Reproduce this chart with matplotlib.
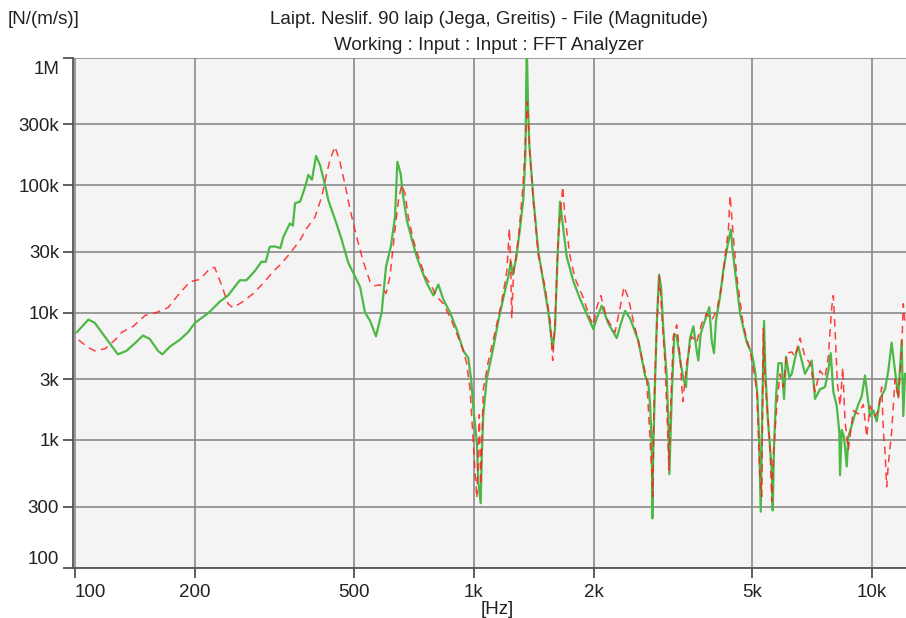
import matplotlib
matplotlib.use("Agg")
import matplotlib.pyplot as plt
import matplotlib.transforms as mtransforms
import numpy as np

plt.rcParams['font.family'] = ['Liberation Sans', 'DejaVu Sans']

## Data
title_1 = "Laipt. Neslif. 90 laip (Jega, Greitis) - File (Magnitude)"
title_2 = "Working : Input : Input : FFT Analyzer"
y_unit = "[N/(m/s)]"
x_unit = "[Hz]"

x_ticks = [100, 200, 500, 1000, 2000, 5000, 10000]
x_tick_labels = ["100", "200", "500", "1k", "2k", "5k", "10k"]
y_ticks = [100, 300, 1e3, 3e3, 1e4, 3e4, 1e5, 3e5, 1e6]
y_tick_labels = ["100", "300", "1k", "3k", "10k", "30k", "100k", "300k", "1M"]

green_f = [101, 108, 112, 128, 134.5, 141, 148, 154, 161.5, 165.6, 173, 183, 192, 200,
           216, 231, 242, 259, 269, 282, 293.5, 301, 308, 317, 327.5, 333, 346, 352,
           356.5, 367, 378, 385, 393, 402.5, 412, 424, 432, 454, 467, 485, 499, 519,
           534, 550, 569, 588, 603, 620, 635, 644, 656, 666, 680, 706, 720, 741, 763,
           793, 816, 840, 873, 908, 943, 970, 986, 999, 1019, 1028, 1042, 1049, 1058,
           1079, 1121, 1154, 1188, 1223, 1240, 1254, 1279, 1308, 1334, 1349, 1360, 1370,
           1380, 1413, 1454, 1497, 1541, 1580, 1601, 1623, 1648, 1680, 1713, 1780, 1850,
           1923, 1998, 2038, 2097, 2179, 2287, 2354, 2400, 2470, 2592, 2694, 2746, 2773,
           2800, 2810, 2827, 2854, 2883, 2921, 2955, 2995, 3054, 3083, 3100, 3125, 3143,
           3191, 3235, 3298, 3362, 3414, 3428, 3494, 3562, 3631, 3665, 3716, 3809, 3905,
           3960, 4013, 4060, 4155, 4235, 4335, 4421, 4472, 4577, 4666, 4850, 4991, 5087,
           5155, 5206, 5257, 5306, 5358, 5399, 5474, 5602, 5634, 5677, 5743, 5820, 5935,
           6014, 6084, 6201, 6287, 6472, 6532, 6661, 6790, 6921, 7058, 7194, 7404, 7621,
           7768, 7877, 7995, 8155, 8279, 8312, 8395, 8506, 8641, 8721, 8893, 9064, 9239,
           9421, 9603, 9698, 9885, 10080, 10275, 10474, 10780, 10990, 11200, 11420, 11640,
           11870, 11980, 12100]
green_v = [7000, 8800, 8300, 4700, 5000, 5700, 6600, 6200, 5000, 4700, 5400, 6100, 7000, 8300,
           9900, 12200, 13600, 17900, 17900, 21000, 25000, 25000, 32800, 33000, 32000, 39000,
           50000, 48000, 72000, 74000, 97000, 120000, 110000, 169000, 143000, 100000, 76000,
           48700, 37000, 24500, 20400, 15900, 10000, 8600, 6500, 10000, 22900, 32800, 56000,
           152000, 123000, 81000, 53000, 34000, 27400, 21500, 17000, 13600, 16600, 12600,
           10000, 7300, 5000, 4400, 3000, 1770, 970, 471, 319, 767, 1580, 3000, 5300, 8600,
           13000, 19200, 25000, 19800, 26500, 45600, 78500, 172000, 1300000, 424000, 206000,
           78500, 30000, 17400, 10000, 5200, 7500, 25000, 74000, 45000, 27400, 17600, 12800,
           9700, 7400, 9000, 11300, 8200, 6300, 8600, 10300, 9000, 6000, 3200, 2800, 1900,
           950, 243, 950, 2800, 8200, 19800, 15900, 7300, 3100, 1360, 540, 1200, 2200, 6800,
           6500, 4300, 3000, 2600, 3500, 6300, 7800, 5000, 4200, 6800, 8700, 11000, 6000,
           4800, 8700, 13300, 21500, 32800, 44800, 30000, 16300, 9800, 5800, 4800, 3500,
           2300, 1060, 274, 1900, 8600, 3500, 1500, 580, 280, 890, 2200, 4000, 4000, 2100,
           4500, 3100, 3300, 5000, 5400, 4200, 3300, 3700, 4200, 2100, 2500, 2600, 3500,
           4800, 2400, 1850, 1150, 530, 1200, 1060, 620, 1060, 1300, 1600, 1900, 2200, 3200,
           2500, 1540, 1700, 1400, 2100, 2500, 3500, 5800, 3500, 2200, 6000, 1540, 3300]

red_f = [102, 107, 112, 119, 126, 131, 140, 150, 160, 171, 181, 194, 206, 218, 224, 233,
         242, 249, 264, 280, 299, 314, 327, 346, 367, 381, 400, 416, 428, 436, 449, 462,
         476, 490, 509, 529, 550, 566, 583, 603, 617, 635, 648, 660, 673, 686, 706, 727,
         756, 786, 809, 840, 873, 908, 943, 961, 980, 1009, 1019, 1034, 1042, 1058, 1090,
         1132, 1177, 1212, 1230, 1240, 1247, 1259, 1296, 1329, 1347, 1365, 1386, 1413,
         1454, 1511, 1556, 1580, 1601, 1632, 1674, 1696, 1747, 1798, 1886, 1960, 1998,
         2038, 2086, 2159, 2265, 2332, 2386, 2446, 2518, 2612, 2720, 2800, 2817, 2838,
         2883, 2926, 2967, 3024, 3064, 3094, 3125, 3172, 3235, 3298, 3350, 3428, 3527,
         3631, 3737, 3848, 3960, 4076, 4197, 4278, 4361, 4403, 4472, 4577, 4756, 4943,
         5137, 5236, 5288, 5336, 5389, 5546, 5602, 5653, 5766, 5877, 5991, 6107, 6287,
         6410, 6596, 6790, 6989, 7194, 7404, 7621, 7768, 7924, 7995, 8077, 8186, 8312,
         8444, 8556, 8721, 8977, 9239, 9510, 9698, 9885, 10175, 10370, 10575, 10675,
         10780, 10886, 10990, 11200, 11420, 11640, 11870, 11980, 12100]
red_v = [6100, 5400, 5000, 5200, 6100, 7000, 7800, 9500, 10000, 10900, 13600, 17400, 18200,
         22200, 22600, 16500, 11700, 10900, 12200, 14100, 17400, 21000, 23600, 29000, 37000,
         45600, 56000, 81000, 123000, 157000, 200000, 152000, 100000, 64000, 39000, 25000,
         17400, 16200, 16500, 14100, 19200, 44800, 76000, 100000, 86000, 56000, 37000, 27400,
         19200, 15900, 13300, 11700, 9200, 6800, 5000, 4000, 2500, 560, 350, 1580, 445, 2500,
         4200, 7000, 12200, 21000, 45600, 22000, 9000, 19800, 38000, 94000, 194000, 450000,
         172000, 74000, 28000, 15900, 8600, 4200, 8600, 39000, 97000, 56000, 27400, 18500,
         13000, 9000, 8000, 10900, 13600, 9000, 7000, 10900, 15900, 13000, 8600, 5300, 3000,
         580, 360, 1900, 7800, 19200, 9800, 4000, 1400, 580, 1900, 6500, 8000, 4500, 2000,
         4000, 6500, 5800, 8200, 9800, 8700, 10300, 16300, 27400, 44800, 83000, 44800, 19200,
         7800, 5000, 2500, 500, 360, 7500, 3000, 900, 330, 730, 1850, 3300, 2600, 4800, 4900,
         4500, 6300, 4500, 4000, 2400, 3500, 3100, 4500, 11000, 13600, 7300, 2800, 1850,
         3700, 1400, 840, 1700, 1600, 1900, 1060, 1850, 1540, 1700, 2600, 1200, 810, 430,
         650, 1150, 3000, 2100, 5000, 11700, 8200]

## Figure
fig = plt.figure(figsize=(9.06, 6.18), dpi=100)
ax = fig.add_axes([73 / 906, 1 - 567.5 / 618, 1 - 73 / 906, 510 / 618])
ax.set_facecolor('#f4f4f4')

ax.plot(green_f, green_v, color='#4cb946', lw=1.6, zorder=3)
ax.plot(red_f, red_v, color='#ff2020', lw=1.1, dashes=(5, 3.5), alpha=0.85, zorder=4)

ax.set_xscale('log')
ax.set_yscale('log')
ax.set_xlim(98.8, 12170)
ax.set_ylim(100, 1e6)

ax.set_xticks(x_ticks)
ax.set_xticklabels(x_tick_labels)
ax.set_yticks(y_ticks)
ax.set_yticklabels(y_tick_labels)
ax.minorticks_off()
ax.tick_params(axis='both', which='major', labelsize=13.5, color='#444444',
               length=7, width=1.2, labelcolor='#222222')
ax.tick_params(axis='x', pad=5)
ax.tick_params(axis='y', pad=3)
ax.get_xticklabels()[0].set_ha('left')
ax.get_yticklabels()[0].set_va('bottom')
top_lab = ax.get_yticklabels()[-1]
top_lab.set_va('top')
top_lab.set_transform(top_lab.get_transform() +
                      mtransforms.ScaledTranslation(0, -4 / 100, fig.dpi_scale_trans))

ax.grid(True, color='#8a8a8a', lw=1.2)
ax.set_axisbelow(True)
for side in ['top', 'right']:
    ax.spines[side].set_visible(False)
for side in ['left', 'bottom']:
    ax.spines[side].set_color('#555555')
    ax.spines[side].set_linewidth(1.3)

fig.text(489 / 906, 1 - 19 / 618, title_1, ha='center', va='center', fontsize=13.5, color='#222222')
fig.text(489 / 906, 1 - 46 / 618, title_2, ha='center', va='center', fontsize=13.5, color='#222222')
fig.text(8 / 906, 1 - 19 / 618, y_unit, ha='left', va='center', fontsize=13.5, color='#222222')
fig.text(497 / 906, 1 - 610 / 618, x_unit, ha='center', va='center', fontsize=13.5, color='#222222')

fig.savefig('out.png', dpi=100)
